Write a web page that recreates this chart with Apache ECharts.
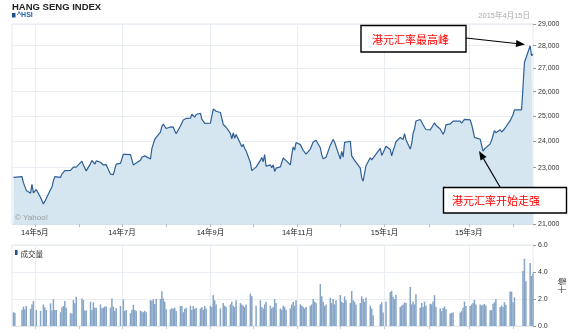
<!DOCTYPE html>
<html><head><meta charset="utf-8">
<script src="https://cdn.jsdelivr.net/npm/echarts@6/dist/echarts.min.js"></script>
<style>html,body{margin:0;padding:0;background:#fff}#c{width:572px;height:333px}</style>
</head><body><div id="c"></div>
<script>
// ---- data ----
const apr14Days = [16,17,22,23,24,25,28,29,30];
const apr14Close = [22640,22700,22670,22450,22500,22170,22070,22390,22080];
const apr14Vol = [1.02,0.96,1.19,1.44,1.24,1.48,1.27,1.6,1.85];

const may14Days = [2,5,7,8,9,12,13,14,15,16,19,20,21,22,23,26,27,28,29,30];
const may14Close = [22200,21920,21690,21780,21800,22200,22290,22520,22670,22650,22640,22770,22780,22890,22900,22900,22880,23020,22950,23020];
const may14Vol = [1.19,1.12,1.6,1.39,1.19,1.68,1.14,1.97,1.19,1.19,1.02,1.39,1.48,1.85,1.36,0.95,0.9,1.92,1.68,2.17];

const jun14Days = [3,4,5,6,9,10,11,12,13,16,17,18,19,20,23,24,25,26,27,30];
const jun14Close = [23240,23100,23040,22880,23150,23270,23200,23130,23250,23200,23130,23100,23090,23110,22760,22790,22740,22800,23130,23160];
const jun14Vol = [2.04,1.92,1.14,1.14,1.8,1.19,1.75,1.36,1.36,1.6,1.31,1.36,1.44,1.44,1.36,2.04,1.44,1.12,1.31,1.48];

const jul14Days = [2,3,4,7,8,9,10,11,14,15,16,17,18,21,22,23,24,25,28,29,30,31];
const jul14Close = [23500,23480,23500,23490,23420,23100,23170,23170,23280,23390,23450,23440,23380,23320,23720,23900,24070,24150,24360,24580,24680,24700];
const jul14Vol = [1.97,1.12,1.19,0.95,1.19,1.56,1.19,1.12,1.14,1.07,1.02,1.12,1.02,1.92,1.87,1.97,1.63,2.0,2.0,2.58,2.04,1.8];

const aug14Days = [1,4,5,6,7,8,11,12,13,14,15,18,19,20,21,22,25,26,27,28,29];
const aug14Close = [24500,24560,24610,24550,24410,24290,24600,24650,24840,24760,24900,24910,25070,25110,24950,25060,25110,24870,24870,24700,24700];
const aug14Vol = [1.24,1.24,1.31,1.27,1.36,1.12,1.48,1.48,1.02,1.27,1.36,1.48,1.19,1.48,1.27,1.36,1.3,1.4,1.2,1.5,1.3];

const sep14Days = [1,2,3,4,5,8,10,11,12,15,16,17,18,19,22,23,24,25,26,29,30];
const sep14Close = [24710,24700,25280,25250,25190,25140,24660,24620,24550,24310,24090,24330,24120,24260,23910,23790,23880,23720,23630,23190,22890];
const sep14Vol = [1.5,1.4,2.3,1.9,1.6,1.3,1.7,1.5,1.4,1.6,1.8,1.5,1.4,1.9,1.7,1.6,1.5,1.4,1.6,2.4,2.2];

const oct14Days = [3,6,7,8,9,10,13,14,15,16,17,20,21,22,23,24,27,28,29,30,31];
const oct14Close = [23020,23270,23380,23220,23490,23050,23100,23000,23100,22860,22980,23030,23050,23360,23290,23260,23100,23480,23780,23660,23950];
const oct14Vol = [1.5,1.9,1.4,1.3,1.6,1.8,1.5,1.3,1.4,2.0,1.7,1.3,1.2,1.5,1.4,1.2,1.3,1.6,1.8,1.5,1.9];

const nov14Days = [3,4,5,6,7,10,11,12,13,14,17,18,19,20,21,24,25,26,27,28];
const nov14Close = [23870,23800,23650,23600,23510,23700,23760,23970,23970,24040,23750,23480,23330,23310,23390,23850,23800,24070,23960,23940];
const nov14Vol = [1.6,1.5,1.4,1.3,1.4,1.5,1.6,2.0,1.8,1.7,3.1,2.2,1.8,1.5,1.6,2.1,1.7,2.0,1.6,1.9];

const dec14Days = [1,2,3,4,5,8,9,10,11,12,15,16,17,18,19,22,23,24,29,30,31];
const dec14Close = [23320,23610,23390,23960,23960,24000,23440,23480,23270,23200,22980,22630,22500,22790,23070,23370,23290,23310,23730,23460,23560];
const dec14Vol = [2.3,1.8,1.7,2.2,1.9,1.7,2.6,1.9,1.8,1.6,1.7,2.2,2.0,1.8,2.1,1.5,1.3,0.8,1.6,1.76,1.0];

const jan15Days = [2,5,6,7,8,9,12,13,14,15,16,19,20,21,22,23,26,27,28,29,30];
const jan15Close = [23810,23680,23440,23640,23790,23980,24150,24170,24070,24300,24060,23700,23910,24310,24480,24800,24860,24760,24820,24550,24460];
const jan15Vol = [1.81,2.52,2.6,2.17,2.0,2.31,1.4,1.52,1.6,1.76,1.71,2.88,1.6,1.81,1.6,2.36,1.36,1.71,1.4,1.81,1.52];

const feb15Days = [2,3,4,5,6,9,10,11,12,13,16,17,18,23,24,25,26,27];
const feb15Close = [24440,24510,24630,24720,24630,24480,24480,24270,24380,24640,24680,24740,24790,24790,24710,24730,24860,24780];
const feb15Vol = [1.64,1.6,1.81,2.29,1.4,1.29,1.1,1.33,1.45,1.24,0.93,0.98,1.0,1.0,1.1,1.36,1.81,1.48];

const mar15Days = [2,3,4,5,6,9,10,11,12,13,16,17,18,19,20,23,24,25,26,27,30,31];
const mar15Close = [24840,24660,24420,24150,24120,24080,23850,23620,23700,23760,23900,24040,24080,24420,24330,24450,24360,24350,24480,24440,24810,24860];
const mar15Vol = [1.48,1.6,1.71,1.93,1.6,1.6,1.52,1.57,1.64,1.52,1.17,1.17,1.64,1.76,2.0,1.4,1.52,1.4,1.76,1.57,2.55,2.55];

const apr15Days = [1,2,3,7,8,9,10,13,14,15];
const apr15Close = [25050,25250,25250,25250,26200,27250,27250,28000,27550,27620];
const apr15Vol = [1.76,2.12,0,0,4.07,4.98,3.31,4.67,3.71,3.9];

const yTicks = [21000,22000,23000,24000,25000,26000,27000,28000,29000];
const volTicks = [0,2,4,6];
const xLabelText = ['14年5月','14年7月','14年9月','14年11月','15年1月','15年3月'];
const xLabelMonths = [[2014,4],[2014,6],[2014,8],[2014,10],[2015,0],[2015,2]];
const tickMonths = [[2014,4],[2014,5],[2014,6],[2014,7],[2014,8],[2014,9],[2014,10],[2014,11],[2015,0],[2015,1],[2015,2],[2015,3]];

// ---- build series ----
const months = [
  [2014,3,apr14Days,apr14Close,apr14Vol],[2014,4,may14Days,may14Close,may14Vol],
  [2014,5,jun14Days,jun14Close,jun14Vol],[2014,6,jul14Days,jul14Close,jul14Vol],
  [2014,7,aug14Days,aug14Close,aug14Vol],[2014,8,sep14Days,sep14Close,sep14Vol],
  [2014,9,oct14Days,oct14Close,oct14Vol],[2014,10,nov14Days,nov14Close,nov14Vol],
  [2014,11,dec14Days,dec14Close,dec14Vol],[2015,0,jan15Days,jan15Close,jan15Vol],
  [2015,1,feb15Days,feb15Close,feb15Vol],[2015,2,mar15Days,mar15Close,mar15Vol],
  [2015,3,apr15Days,apr15Close,apr15Vol]
];
const priceData = [], volData = [];
months.forEach(([y,m,days,cl,vo]) => {
  days.forEach((d,i) => {
    const t = new Date(y,m,d).getTime();
    priceData.push([t, cl[i]]);
    if (vo[i] > 0) volData.push([t, vo[i]]);
  });
});
const xMin = new Date(2014,3,15).getTime();
const xMax = new Date(2015,3,15).getTime();
const labelVals = xLabelMonths.map(([y,m]) => new Date(y,m,1).getTime());
const tickVals = tickMonths.map(([y,m]) => new Date(y,m,1).getTime());
const fmtX = v => { const i = labelVals.indexOf(v); return i >= 0 ? xLabelText[i] : ''; };

const FONT = '"Liberation Sans","Noto Sans CJK SC",sans-serif';
const gridLine = '#e9eef4';

function arrow(x1,y1,x2,y2){
  const dx=x2-x1, dy=y2-y1, L=Math.hypot(dx,dy), ux=dx/L, uy=dy/L;
  const hl=9, hw=3.5, bx=x2-ux*hl, by=y2-uy*hl;
  return [
    {type:'line', z:100, shape:{x1:x1,y1:y1,x2:bx,y2:by}, style:{stroke:'#000',lineWidth:1.2}},
    {type:'polygon', z:100, shape:{points:[[x2,y2],[bx-uy*hw,by+ux*hw],[bx+uy*hw,by-ux*hw]]}, style:{fill:'#000'}}
  ];
}

const chart = echarts.init(document.getElementById('c'), null, {renderer:'canvas'});
chart.setOption({
  animation:false,
  backgroundColor:'#fff',
  textStyle:{fontFamily:FONT},
  grid:[
    {left:12, right:39, top:24, height:200, show:true, borderColor:'#e3e8ee', borderWidth:1, outerBoundsMode:'none', containLabel:false},
    {left:12, right:39, top:245, height:81, show:true, borderColor:'#e3e8ee', borderWidth:1, outerBoundsMode:'none', containLabel:false}
  ],
  xAxis:[
    {type:'value', gridIndex:0, min:xMin, max:xMax, position:'bottom',
     axisLine:{show:true, lineStyle:{color:'#d6e0ea'}},
     axisTick:{show:true, length:3, lineStyle:{color:'#b8c2cc'}, customValues:tickVals},
     axisLabel:{show:true, customValues:labelVals, formatter:fmtX, color:'#222', fontSize:7.5, margin:5, fontFamily:FONT},
     splitLine:{show:false}},
    {type:'value', gridIndex:0, min:xMin, max:xMax, position:'bottom',
     axisLine:{show:false}, axisTick:{show:false, customValues:labelVals}, axisLabel:{show:false},
     splitLine:{show:true, lineStyle:{color:gridLine, width:1}}},
    {type:'value', gridIndex:1, min:xMin, max:xMax, position:'bottom',
     axisLine:{show:true, lineStyle:{color:'#e3e8ee'}},
     axisTick:{show:true, length:3, lineStyle:{color:'#c4ccd4'}, customValues:tickVals},
     axisLabel:{show:false}, splitLine:{show:false}},
    {type:'value', gridIndex:1, min:xMin, max:xMax, position:'bottom',
     axisLine:{show:false}, axisTick:{show:false, customValues:labelVals}, axisLabel:{show:false},
     splitLine:{show:true, lineStyle:{color:gridLine, width:1}}}
  ],
  yAxis:[
    {type:'log', gridIndex:0, min:21000, max:29000, position:'right',
     axisLine:{show:false},
     axisTick:{show:true, length:3, lineStyle:{color:'#999'}, customValues:yTicks},
     axisLabel:{customValues:yTicks, formatter:v=>Math.round(v).toLocaleString('en-US'), color:'#333', fontSize:7, margin:5, fontFamily:FONT},
     splitLine:{show:true, lineStyle:{color:gridLine}}},
    {type:'value', gridIndex:1, min:volTicks[0], max:volTicks[volTicks.length-1], interval:2, position:'right',
     name:'十億', nameLocation:'middle', nameRotate:90, nameGap:24,
     nameTextStyle:{color:'#333', fontSize:8, fontFamily:FONT},
     axisLine:{show:false},
     axisTick:{show:true, length:3, lineStyle:{color:'#999'}},
     axisLabel:{formatter:v=>v.toFixed(1), color:'#333', fontSize:7, margin:5, fontFamily:FONT},
     splitLine:{show:true, lineStyle:{color:gridLine}}}
  ],
  series:[
    {type:'line', xAxisIndex:0, yAxisIndex:0, data:priceData, symbol:'none', smooth:false,
     lineStyle:{color:'#2d5f95', width:1.2},
     areaStyle:{color:'#d6e6f1', opacity:1, origin:'start'}, z:3},
    {type:'bar', xAxisIndex:2, yAxisIndex:1, data:volData, barWidth:1.5,
     itemStyle:{color:'#86a4c6'}, z:3}
  ],
  graphic:[
    {type:'text', z:100, left:12, top:2, style:{text:'HANG SENG INDEX', font:'bold 9.5px "Liberation Sans"', fill:'#222'}},
    {type:'rect', z:100, shape:{x:12,y:13,width:3.5,height:4.5}, style:{fill:'#1f4e8c'}},
    {type:'text', z:100, x:17, y:15.5, style:{text:'^HSI', font:'bold 7px "Liberation Sans"', fill:'#2462a8', textVerticalAlign:'middle'}},
    {type:'text', z:100, x:530, y:15.5, style:{text:'2015年4月15日', font:'7.5px "Liberation Sans","Noto Sans CJK SC"', fill:'#aaa', textAlign:'right', textVerticalAlign:'middle'}},
    {type:'text', z:100, x:15, y:218, style:{text:'© Yahoo!', font:'8px "Liberation Sans"', fill:'#999', textVerticalAlign:'middle'}},
    {type:'rect', z:100, shape:{x:15,y:250,width:2.5,height:5}, style:{fill:'#1f4e8c'}},
    {type:'text', z:100, x:20.5, y:254, style:{text:'成交量', font:'7.5px "Noto Sans CJK SC"', fill:'#333', textVerticalAlign:'middle'}},
    {type:'rect', z:100, shape:{x:361,y:25.5,width:105,height:26.5}, style:{fill:'#fff', stroke:'#000', lineWidth:1.4}},
    {type:'text', z:101, x:372, y:39.5, style:{text:'港元汇率最高峰', font:'11px "Noto Sans CJK SC"', fill:'#ff0000', textVerticalAlign:'middle'}},
    {type:'rect', z:100, shape:{x:443.5,y:187.5,width:123,height:25.5}, style:{fill:'#fff', stroke:'#000', lineWidth:1.4}},
    {type:'text', z:101, x:452, y:200.5, style:{text:'港元汇率开始走强', font:'11px "Noto Sans CJK SC"', fill:'#ff0000', textVerticalAlign:'middle'}}
  ].concat(arrow(466,38,525,44.5)).concat(arrow(500,187,479,151))
});
</script></body></html>
